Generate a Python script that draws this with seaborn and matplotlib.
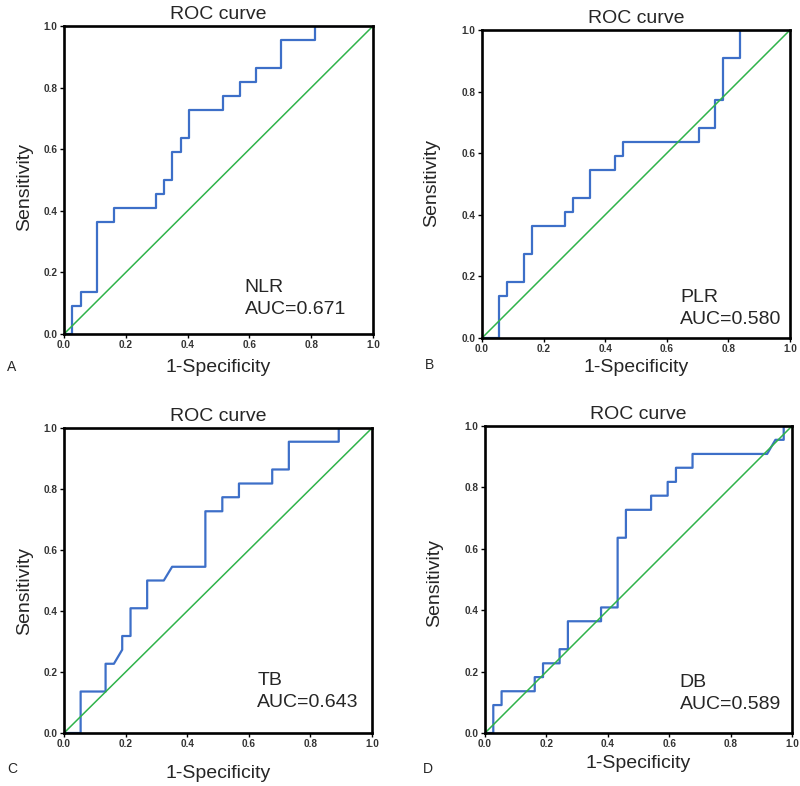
import numpy as np
import pandas as pd
import seaborn as sns
import matplotlib.pyplot as plt

# ROC vertices (1-specificity, sensitivity)
fpr_nlr = [0, 0.027, 0.027, 0.054, 0.054, 0.108, 0.108, 0.162, 0.162, 0.297, 0.297, 0.324, 0.324,
           0.351, 0.351, 0.378, 0.378, 0.405, 0.405, 0.514, 0.514, 0.568, 0.568, 0.622, 0.622,
           0.703, 0.703, 0.811, 0.811, 1.0]
tpr_nlr = [0, 0, 0.091, 0.091, 0.136, 0.136, 0.364, 0.364, 0.409, 0.409, 0.455, 0.455, 0.5,
           0.5, 0.591, 0.591, 0.636, 0.636, 0.727, 0.727, 0.773, 0.773, 0.818, 0.818, 0.864,
           0.864, 0.955, 0.955, 1.0, 1.0]

fpr_plr = [0, 0.054, 0.054, 0.081, 0.081, 0.135, 0.135, 0.162, 0.162, 0.270, 0.270, 0.297, 0.297,
           0.351, 0.351, 0.432, 0.432, 0.459, 0.459, 0.703, 0.703, 0.757, 0.757, 0.784, 0.784,
           0.838, 0.838, 1.0]
tpr_plr = [0, 0, 0.136, 0.136, 0.182, 0.182, 0.273, 0.273, 0.364, 0.364, 0.409, 0.409, 0.455,
           0.455, 0.545, 0.545, 0.591, 0.591, 0.636, 0.636, 0.682, 0.682, 0.773, 0.773, 0.909,
           0.909, 1.0, 1.0]

fpr_tb = [0, 0.054, 0.054, 0.135, 0.135, 0.162, 0.189, 0.189, 0.216, 0.216, 0.270, 0.270, 0.324,
          0.351, 0.459, 0.459, 0.514, 0.514, 0.568, 0.568, 0.676, 0.676, 0.730, 0.730, 0.892,
          0.892, 1.0]
tpr_tb = [0, 0, 0.136, 0.136, 0.227, 0.227, 0.273, 0.318, 0.318, 0.409, 0.409, 0.5, 0.5,
          0.545, 0.545, 0.727, 0.727, 0.773, 0.773, 0.818, 0.818, 0.864, 0.864, 0.955, 0.955,
          1.0, 1.0]

fpr_db = [0, 0.027, 0.027, 0.054, 0.054, 0.162, 0.162, 0.189, 0.189, 0.243, 0.243, 0.270, 0.270,
          0.378, 0.378, 0.432, 0.432, 0.459, 0.459, 0.541, 0.541, 0.595, 0.595, 0.622, 0.622,
          0.676, 0.676, 0.919, 0.946, 0.973, 0.973, 1.0]
tpr_db = [0, 0, 0.091, 0.091, 0.136, 0.136, 0.182, 0.182, 0.227, 0.227, 0.273, 0.273, 0.364,
          0.364, 0.409, 0.409, 0.636, 0.636, 0.727, 0.727, 0.773, 0.773, 0.818, 0.818, 0.864,
          0.864, 0.909, 0.909, 0.955, 0.955, 1.0, 1.0]

markers = ['NLR', 'PLR', 'TB', 'DB']
auc_values = ['0.671', '0.580', '0.643', '0.589']
panel_letters = ['A', 'B', 'C', 'D']
ticks = [0.0, 0.2, 0.4, 0.6, 0.8, 1.0]

sns.set_style('ticks')
plt.rcParams['font.family'] = ['Liberation Sans', 'DejaVu Sans']

W, H = 800, 786
fig = plt.figure(figsize=(8, 7.86), dpi=100)

# pixel boxes (left, right, top, bottom) of each plotting area
boxes = [(64, 373, 26, 334), (482, 790, 30, 338), (64, 372, 428, 733), (485, 792, 426, 733)]
# text anchors: annotation (axes frac), xlabel y px, ylabel x/y px, letter x/y px
anno_pos = [(0.585, 0.178), (0.643, 0.159), (0.628, 0.199), (0.634, 0.192)]
xlab_y = [368, 367, 773, 763]
ylab_xy = [(25, 187), (432, 183), (25, 591), (435, 583)]
letter_xy = [(12, 367), (430, 365), (12, 769), (428, 769)]

curves = [(fpr_nlr, tpr_nlr), (fpr_plr, tpr_plr), (fpr_tb, tpr_tb), (fpr_db, tpr_db)]

for i, (fpr, tpr) in enumerate(curves):
    l, r, t, b = boxes[i]
    ax = fig.add_axes([l / W, (H - b) / H, (r - l) / W, (b - t) / H])
    df = pd.DataFrame({'fpr': fpr, 'tpr': tpr})
    sns.lineplot(data=df, x='fpr', y='tpr', sort=False, estimator=None,
                 color='#3d6fc8', linewidth=1.6, ax=ax, zorder=2)
    sns.lineplot(x=[0, 1], y=[0, 1], color='#2fb34a', linewidth=1.1, ax=ax, zorder=2)

    ax.set_xlim(0, 1)
    ax.set_ylim(0, 1)
    ax.set_xticks(ticks)
    ax.set_yticks(ticks)
    ax.set_xticklabels([f'{v:.1f}' for v in ticks])
    ax.set_yticklabels([f'{v:.1f}' for v in ticks])
    ax.tick_params(direction='out', length=3, width=1, pad=1.5, labelsize=7.2,
                   labelcolor='#333333', color='black')
    for lab in ax.get_xticklabels() + ax.get_yticklabels():
        lab.set_fontweight('bold')
    for sp in ax.spines.values():
        sp.set_visible(True)
        sp.set_linewidth(1.9)
        sp.set_color('black')
        sp.set_zorder(5)
    ax.set_xlabel('')
    ax.set_ylabel('')
    ax.set_title('ROC curve', fontsize=14, pad=5)

    ax.text(anno_pos[i][0], anno_pos[i][1], f'{markers[i]}\nAUC={auc_values[i]}',
            transform=ax.transAxes, fontsize=14, ha='left', va='top', linespacing=1.35)

    fig.text(((l + r) / 2) / W, 1 - xlab_y[i] / H, '1-Specificity', fontsize=14,
             ha='center', va='center')
    fig.text(ylab_xy[i][0] / W, 1 - ylab_xy[i][1] / H, 'Sensitivity', fontsize=14,
             ha='center', va='center', rotation=90)
    fig.text(letter_xy[i][0] / W, 1 - letter_xy[i][1] / H, panel_letters[i], fontsize=10,
             ha='center', va='center')

fig.savefig('out.png', dpi=100)
